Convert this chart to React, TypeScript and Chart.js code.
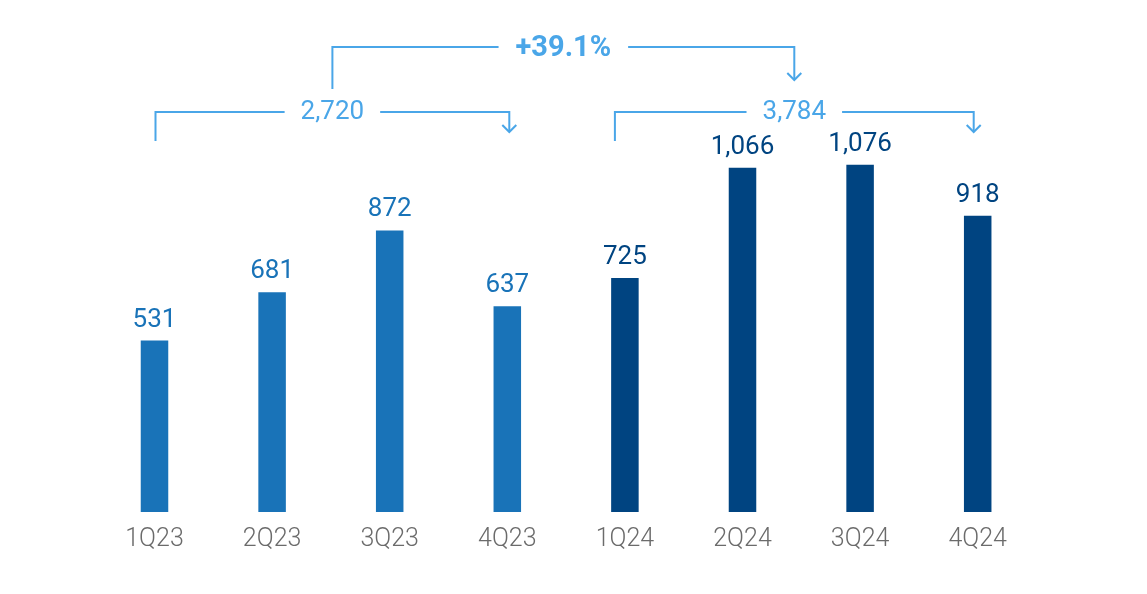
import React, { useEffect, useRef } from "react";
import { Chart, registerables } from "chart.js";

Chart.register(...registerables);

const categories = ["1Q23", "2Q23", "3Q23", "4Q23", "1Q24", "2Q24", "3Q24", "4Q24"];
const values = [531, 681, 872, 637, 725, 1066, 1076, 918];
const valueLabels = ["531", "681", "872", "637", "725", "1,066", "1,076", "918"];
const years = [2023, 2023, 2023, 2023, 2024, 2024, 2024, 2024];
const groupTotals = ["2,720", "3,784"];
const groupRanges = [
  [0, 3],
  [4, 7],
];
const growthLabel = "+39.1%";

const COLOR_2023 = "#1973B8";
const COLOR_2024 = "#004481";
const ANNOT = "#4AA6E8";
const FONT = "Roboto, 'Open Sans', sans-serif";

const barColors = years.map((y) => (y === 2023 ? COLOR_2023 : COLOR_2024));

const valueLabelPlugin = {
  id: "valueLabels",
  afterDatasetsDraw(chart: any) {
    const ctx = chart.ctx;
    const meta = chart.getDatasetMeta(0);
    ctx.save();
    ctx.font = `400 26px ${FONT}`;
    ctx.textAlign = "center";
    ctx.textBaseline = "alphabetic";
    meta.data.forEach((bar: any, i: number) => {
      ctx.fillStyle = barColors[i];
      ctx.fillText(valueLabels[i], bar.x, bar.y - 14);
    });
    ctx.restore();
  },
};

function arrowDown(ctx: CanvasRenderingContext2D, x: number, tipY: number) {
  ctx.beginPath();
  ctx.moveTo(x - 7, tipY - 7);
  ctx.lineTo(x, tipY);
  ctx.lineTo(x + 7, tipY - 7);
  ctx.stroke();
}

const bracketPlugin = {
  id: "brackets",
  afterDraw(chart: any) {
    const ctx = chart.ctx as CanvasRenderingContext2D;
    const xs = chart.scales.x;
    ctx.save();
    ctx.strokeStyle = ANNOT;
    ctx.fillStyle = ANNOT;
    ctx.lineWidth = 2;
    ctx.textAlign = "center";
    ctx.textBaseline = "middle";

    const lineY = 112;
    const mids: number[] = [];
    groupRanges.forEach(([a, b], gi) => {
      const x0 = xs.getPixelForValue(a) + (gi === 1 ? -10 : 1);
      const x1 = xs.getPixelForValue(b) + (gi === 1 ? -4 : 2);
      const mid = (x0 + x1) / 2;
      mids.push(mid);
      ctx.font = `400 26px ${FONT}`;
      const w = ctx.measureText(groupTotals[gi]).width;
      const gap = 16;
      ctx.beginPath();
      ctx.moveTo(x0, 141);
      ctx.lineTo(x0, lineY);
      ctx.lineTo(mid - w / 2 - gap, lineY);
      ctx.moveTo(mid + w / 2 + gap, lineY);
      ctx.lineTo(x1, lineY);
      ctx.lineTo(x1, 132);
      ctx.stroke();
      arrowDown(ctx, x1, 132);
      ctx.fillText(groupTotals[gi], mid, lineY);
    });

    const topY = 47;
    const m0 = mids[0];
    const m1 = mids[1];
    const tm = (m0 + m1) / 2;
    ctx.font = `700 29px ${FONT}`;
    const tw = ctx.measureText(growthLabel).width;
    const tgap = 17;
    ctx.beginPath();
    ctx.moveTo(m0, 89);
    ctx.lineTo(m0, topY);
    ctx.lineTo(tm - tw / 2 - tgap, topY);
    ctx.moveTo(tm + tw / 2 + tgap, topY);
    ctx.lineTo(m1, topY);
    ctx.lineTo(m1, 80);
    ctx.stroke();
    arrowDown(ctx, m1, 80);
    ctx.fillText(growthLabel, tm, topY + 2);
    ctx.restore();
  },
};

export default function App() {
  const canvasRef = useRef<HTMLCanvasElement | null>(null);

  useEffect(() => {
    if (!canvasRef.current) return;
    const chart = new Chart(canvasRef.current, {
      type: "bar",
      data: {
        labels: categories,
        datasets: [
          {
            data: values,
            backgroundColor: barColors,
            borderWidth: 0,
            barPercentage: 0.234,
            categoryPercentage: 1,
          },
        ],
      },
      options: {
        animation: false,
        responsive: false,
        maintainAspectRatio: false,
        layout: { padding: { top: 124.6, left: 95.7, right: 110.5, bottom: 0 } },
        plugins: {
          legend: { display: false },
          tooltip: { enabled: false },
        },
        scales: {
          x: {
            grid: { display: false, drawTicks: false },
            border: { display: false },
            ticks: {
              color: "#6b6b6b",
              font: { family: FONT, size: 25, weight: "300" },
              padding: 13,
            },
            afterFit: (scale: any) => {
              scale.height = 82;
            },
          },
          y: {
            display: false,
            min: 0,
            max: 1200,
          },
        },
      },
      plugins: [valueLabelPlugin, bracketPlugin],
    });
    return () => chart.destroy();
  }, []);

  return (
    <div style={{ position: "absolute", left: 0, top: 0, width: 1147, height: 594, background: "#fff" }}>
      <canvas ref={canvasRef} width={1147} height={594} />
    </div>
  );
}
